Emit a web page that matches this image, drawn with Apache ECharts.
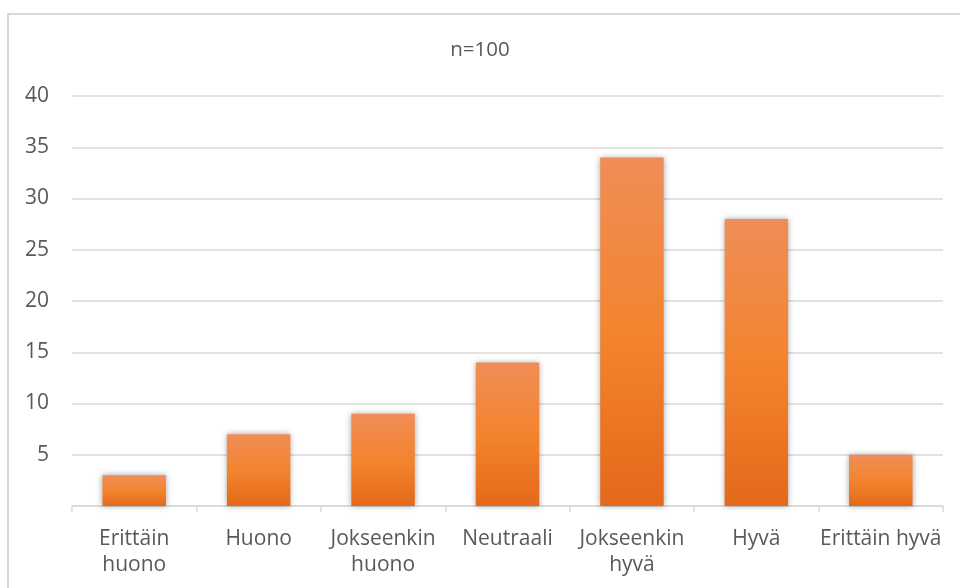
<!DOCTYPE html>
<html>
<head>
<meta charset="utf-8">
<script src="https://cdn.jsdelivr.net/npm/echarts@6/dist/echarts.min.js"></script>
<style>
html,body{margin:0;padding:0;background:#fff;}
#frame{position:absolute;left:7px;top:13px;width:1000px;height:700px;border-left:2px solid #d9d9d9;border-top:2px solid #d9d9d9;box-sizing:border-box;}
#chart{position:absolute;left:0;top:0;width:960px;height:588px;}
</style>
</head>
<body>
<div id="frame"></div>
<div id="chart"></div>
<script>
const categories = ['Erittäin\nhuono', 'Huono', 'Jokseenkin\nhuono', 'Neutraali', 'Jokseenkin\nhyvä', 'Hyvä', 'Erittäin hyvä'];
const values = [3, 7, 9, 14, 34, 28, 5];
const titleText = 'n=100';

const chart = echarts.init(document.getElementById('chart'));
const font = '"Open Sans", "Liberation Sans", sans-serif';
chart.setOption({
  animation: false,
  title: {
    text: titleText, left: 'center', top: 35,
    textStyle: { fontFamily: font, fontSize: 20.5, fontWeight: 'normal', color: '#595959' }
  },
  grid: { left: 72, right: 17, top: 96, bottom: 82 },
  xAxis: {
    type: 'category', data: categories,
    axisLine: { lineStyle: { color: '#d9d9d9', width: 1.5 } },
    axisTick: { show: true, length: 6, lineStyle: { color: '#d9d9d9', width: 1.5 } },
    axisLabel: { interval: 0, hideOverlap: false, fontFamily: font, fontSize: 21, color: '#595959', margin: 20, lineHeight: 26 }
  },
  yAxis: {
    type: 'value', min: 0, max: 40, interval: 5,
    axisLine: { show: false }, axisTick: { show: false },
    splitLine: { lineStyle: { color: '#d9d9d9', width: 1.5 } },
    axisLabel: {
      fontFamily: font, fontSize: 21, color: '#595959', margin: 23,
      formatter: v => v === 0 ? '' : String(v)
    }
  },
  series: [{
    type: 'bar', data: values, barWidth: '51%',
    itemStyle: {
      color: new echarts.graphic.LinearGradient(0, 0, 0, 1, [
        { offset: 0, color: '#f08d57' },
        { offset: 0.5, color: '#f3842f' },
        { offset: 1, color: '#e4691a' }
      ]),
      shadowBlur: 6, shadowColor: 'rgba(0,0,0,0.35)', shadowOffsetX: 0, shadowOffsetY: 0
    }
  }]
});
</script>
</body>
</html>
